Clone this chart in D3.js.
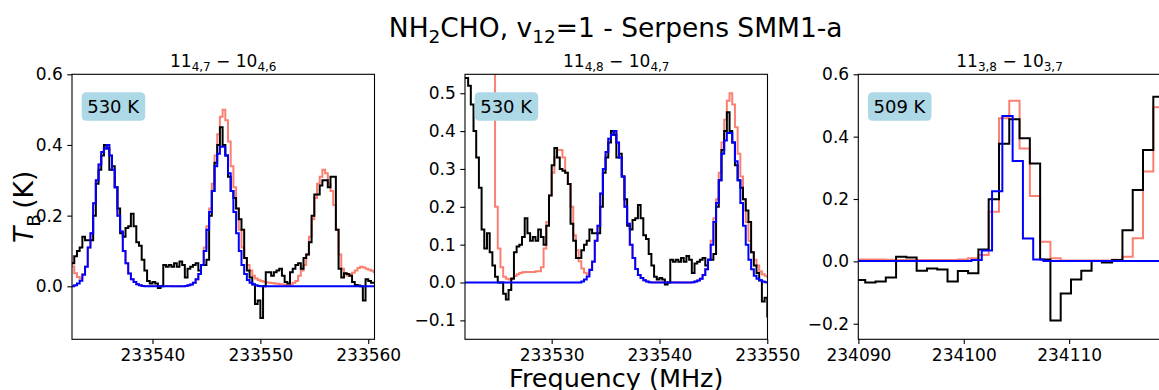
<!DOCTYPE html>
<html>
<head>
<meta charset="utf-8">
<script src="https://cdn.jsdelivr.net/npm/d3@7"></script>
<style>
  body { margin: 0; background: #fff; }
  text { font-family: "DejaVu Sans", sans-serif; fill: #000; }
</style>
</head>
<body>
<script>
// ---- data: 233.5 GHz window (0.25 MHz channels), shared by panels 1 and 2
const chanStart12 = 233521.75, chanWidth12 = 0.25;
const obs12 = [
  0.54, 0.54, 0.52, 0.47, 0.40, 0.33, 0.25, 0.14, 0.09, 0.13,
  0.08, 0.045, 0.015, 0.0, 0.0, -0.03, -0.045, -0.02, 0.01, 0.08,
  0.095, 0.10, 0.12, 0.17, 0.13, 0.11, 0.12, 0.11, 0.14, 0.12,
  0.10, 0.15, 0.23, 0.31, 0.355, 0.33, 0.30, 0.295, 0.29, 0.26,
  0.155, 0.11, 0.065, 0.065, 0.085, 0.10, 0.11, 0.14, 0.13, 0.13,
  0.13, 0.20, 0.29, 0.33, 0.37, 0.40, 0.39, 0.33, 0.34, 0.28,
  0.22, 0.15, 0.14, 0.165, 0.17, 0.205, 0.17, 0.125, 0.115, 0.075,
  0.045, 0.015, 0.008, 0.012, 0.008, -0.005, 0.0, 0.06, 0.055, 0.06,
  0.055, 0.065, 0.055, 0.07, 0.06, 0.025, 0.05, 0.055, 0.06, 0.065,
  0.045, 0.06, 0.06, 0.075, 0.20, 0.27, 0.35, 0.40, 0.45, 0.40,
  0.37, 0.31, 0.27, 0.25, 0.22, 0.19, 0.16, 0.08, 0.045, 0.025,
  0.005, -0.05, -0.04, -0.09, 0.0, 0.04, 0.04, 0.03, 0.04, 0.045,
  0.05, 0.03, 0.012, 0.008, 0.04, 0.05, 0.06, 0.065, 0.05, 0.08,
  0.09, 0.125, 0.20, 0.26, 0.26, 0.285, 0.30, 0.30, 0.28, 0.31,
  0.31, 0.16, 0.05, 0.025, 0.037, 0.035, 0.03, 0.012, 0.004, 0.002,
  0.0, -0.04, 0.02, 0.015, 0.01, 0.01
];
// full model (all species)
const total12 = [
  0.9, 0.9, 0.9, 0.9, 0.9, 0.9, 0.9, 0.9, 0.9, 0.9,
  0.9, 0.9, 0.20, 0.09, 0.04, 0.015, 0.01, 0.008, 0.012, 0.017,
  0.022, 0.025, 0.027, 0.028, 0.028, 0.028, 0.028, 0.03, 0.03, 0.04,
  0.09, 0.16, 0.23, 0.29, 0.33, 0.35, 0.35, 0.33, 0.29, 0.26,
  0.20, 0.125, 0.085, 0.056, 0.037, 0.026, 0.022, 0.035, 0.056, 0.11,
  0.15, 0.235, 0.30, 0.345, 0.38, 0.39, 0.40, 0.37, 0.33, 0.28,
  0.20, 0.155, 0.10, 0.065, 0.036, 0.02, 0.012, 0.006, 0.003, 0.001,
  0.001, 0.001, 0.001, 0.001, 0.001, 0.001, 0.001, 0.001, 0.001, 0.001,
  0.0, 0.0, 0.0, 0.0, 0.0, 0.001, 0.003, 0.005, 0.01, 0.02,
  0.035, 0.06, 0.11, 0.17, 0.22, 0.29, 0.37, 0.43, 0.48, 0.50,
  0.47, 0.41, 0.34, 0.28, 0.22, 0.16, 0.11, 0.08, 0.06, 0.045,
  0.03, 0.022, 0.018, 0.015, 0.013, 0.011, 0.01, 0.009, 0.008, 0.007,
  0.006, 0.005, 0.004, 0.003, 0.005, 0.01, 0.015, 0.03, 0.045, 0.06,
  0.09, 0.14, 0.19, 0.25, 0.29, 0.31, 0.33, 0.32, 0.29, 0.27,
  0.23, 0.16, 0.09, 0.05, 0.037, 0.03, 0.032, 0.038, 0.045, 0.052,
  0.055, 0.053, 0.05, 0.047, 0.044, 0.04
];
// NH2CHO v12=1 model alone
const vib12 = [
  0, 0, 0, 0, 0, 0, 0, 0, 0, 0,
  0, 0, 0, 0, 0, 0, 0, 0, 0, 0,
  0, 0, 0, 0, 0, 0, 0, 0, 0, 0,
  0, 0, 0, 0, 0, 0, 0, 0, 0, 0,
  0, 0, 0, 0, 0.003, 0.008, 0.016, 0.033, 0.055, 0.11,
  0.15, 0.235, 0.30, 0.345, 0.38, 0.39, 0.40, 0.37, 0.33, 0.28,
  0.20, 0.155, 0.10, 0.065, 0.036, 0.02, 0.012, 0.006, 0.003, 0.001,
  0, 0, 0, 0, 0, 0, 0, 0, 0, 0,
  0, 0, 0, 0, 0, 0.001, 0.003, 0.005, 0.01, 0.02,
  0.035, 0.06, 0.10, 0.16, 0.21, 0.27, 0.34, 0.375, 0.395, 0.395,
  0.37, 0.32, 0.27, 0.21, 0.15, 0.10, 0.06, 0.035, 0.018, 0.01,
  0.006, 0.003, 0.001, 0, 0, 0, 0, 0, 0, 0,
  0, 0, 0, 0, 0, 0, 0, 0, 0, 0,
  0, 0, 0, 0, 0, 0, 0, 0, 0, 0,
  0, 0, 0, 0, 0, 0, 0, 0, 0, 0,
  0, 0, 0, 0, 0, 0
];

// ---- data: 234.1 GHz window (coarser channels)
const chanStart3 = 234089.67, chanWidth3 = 0.9765;
const vibStart3 = 234089.99;
const obs3 = [-0.06, -0.068, -0.065, -0.052, 0.015, 0.012, -0.03, -0.023, -0.026, -0.065,
  -0.031, -0.038, 0.038, 0.199, 0.377, 0.456, 0.395, 0.314, 0.006, -0.19,
  -0.103, -0.058, -0.03, 0.001, -0.004, 0.004, 0.10, 0.229, 0.357, 0.528];
const total3 = [0.006, 0.006, 0.006, 0.005, 0.004, 0.004, 0.004, 0.004, 0.004, 0.004,
  0.006, 0.01, 0.02, 0.159, 0.459, 0.515, 0.362, 0.21, 0.063, 0.01,
  0.003, 0.003, 0.003, 0.003, 0.003, 0.005, 0.015, 0.074, 0.288, 0.494];
const vib3 = [0.001, 0.001, 0.001, 0.001, 0.001, 0.001, 0.001, 0.001, 0.001, 0.001,
  0.001, 0.004, 0.035, 0.225, 0.466, 0.322, 0.073, 0.006, 0.001, 0.001,
  0.001, 0.001, 0.001, 0.001, 0.001, 0.001, 0.001, 0.001, 0.001, 0.001];

// ---- panel labels and axes
const upperLevels = [["11", "4,7"], ["11", "4,8"], ["11", "3,8"]];
const lowerLevels = [["10", "4,6"], ["10", "4,7"], ["10", "3,7"]];
const eupLabels = ["530 K", "530 K", "509 K"];
const xLimits = [[233532.54, 233560.58], [233521.96, 233550.02], [234089.99, 234118.7]];
const yLimits = [[-0.15, 0.6], [-0.15, 0.55], [-0.25, 0.6]];
const xTicks = [[233540, 233550, 233560], [233530, 233540, 233550], [234090, 234100, 234110]];
const yTicks = [[0, 0.2, 0.4, 0.6], [-0.1, 0, 0.1, 0.2, 0.3, 0.4, 0.5], [-0.2, 0, 0.2, 0.4, 0.6]];

const width = 1159, height = 390;
const svg = d3.select("body").append("svg")
  .attr("width", width).attr("height", height);

const panelLeft = [72, 465, 858.3], panelTop = 74.3, pw = 302.5, ph = 265;

function steps(start, w, vals) {
  let pts = vals.map((v, i) => [start + i * w, v]);
  pts.push([start + vals.length * w, vals[vals.length - 1]]);
  return pts;
}

const series = [
  [{s: chanStart12, w: chanWidth12, v: total12, c: "#fa8072"},
   {s: chanStart12, w: chanWidth12, v: obs12, c: "#000000"},
   {s: chanStart12, w: chanWidth12, v: vib12, c: "#0000ff"}],
  null,
  [{s: chanStart3, w: chanWidth3, v: total3, c: "#fa8072"},
   {s: chanStart3, w: chanWidth3, v: obs3, c: "#000000"},
   {s: vibStart3, w: chanWidth3, v: vib3, c: "#0000ff"}]
];
series[1] = series[0];

for (let p = 0; p < 3; p++) {
  let g = svg.append("g").attr("transform", `translate(${panelLeft[p]},${panelTop})`);
  let x = d3.scaleLinear().domain(xLimits[p]).range([0, pw]);
  let y = d3.scaleLinear().domain(yLimits[p]).range([ph, 0]);

  g.append("clipPath").attr("id", "clip" + p)
    .append("rect").attr("width", pw).attr("height", ph);

  let line = d3.line().x(d => x(d[0])).y(d => y(d[1])).curve(d3.curveStepAfter);
  let lines = g.append("g").attr("clip-path", `url(#clip${p})`);
  series[p].forEach(s => {
    lines.append("path")
      .attr("d", line(steps(s.s, s.w, s.v)))
      .attr("fill", "none").attr("stroke", s.c)
      .attr("stroke-width", 2).attr("stroke-linejoin", "miter");
  });

  // axes
  let xa = g.append("g").attr("transform", `translate(0,${ph})`)
    .call(d3.axisBottom(x).tickValues(xTicks[p]).tickFormat(d3.format("d"))
      .tickSize(4.7).tickPadding(4.5));
  let ya = g.append("g")
    .call(d3.axisLeft(y).tickValues(yTicks[p]).tickFormat(d3.format(".1f"))
      .tickSize(4.7).tickPadding(4.5));
  [xa, ya].forEach(a => {
    a.select(".domain").remove();
    a.selectAll("text").style("font-size", "17px").style("font-family", "DejaVu Sans");
    a.selectAll("line").attr("stroke-width", 1.1);
  });

  g.append("rect").attr("width", pw).attr("height", ph)
    .attr("fill", "none").attr("stroke", "#000").attr("stroke-width", 1.1);

  // energy label
  g.append("rect").attr("x", 9.7).attr("y", 18).attr("width", 63.5).attr("height", 28.5)
    .attr("rx", 4.5).attr("fill", "#add8e6");
  g.append("text").attr("x", 15.2).attr("y", 38.5).style("font-size", "18px")
    .text(eupLabels[p]);

  // transition title
  let t = svg.append("text").attr("x", panelLeft[p] + pw / 2).attr("y", 67)
    .attr("text-anchor", "middle").style("font-size", "17px");
  t.append("tspan").text(upperLevels[p][0]);
  t.append("tspan").attr("dy", 4).style("font-size", "12px").text(upperLevels[p][1]);
  t.append("tspan").attr("dy", -4).text(" \u2212 " + lowerLevels[p][0]);
  t.append("tspan").attr("dy", 4).style("font-size", "12px").text(lowerLevels[p][1]);
}

// figure title
let title = svg.append("text").attr("x", 615.7).attr("y", 37)
  .attr("text-anchor", "middle").style("font-size", "26.5px");
title.append("tspan").text("NH");
title.append("tspan").attr("dy", 6).style("font-size", "18.5px").text("2");
title.append("tspan").attr("dy", -6).text("CHO, v");
title.append("tspan").attr("dy", 6).style("font-size", "18.5px").text("12");
title.append("tspan").attr("dy", -6).text("=1 - Serpens SMM1-a");

// axis labels
svg.append("text").attr("x", panelLeft[1] + pw / 2).attr("y", 387)
  .attr("text-anchor", "middle").style("font-size", "25.5px").text("Frequency (MHz)");

let yl = svg.append("text")
  .attr("transform", `translate(33,${panelTop + ph / 2}) rotate(-90)`)
  .attr("text-anchor", "middle").style("font-size", "26.5px");
yl.append("tspan").style("font-style", "italic").text("T");
yl.append("tspan").attr("dy", 7).style("font-size", "18.5px").text("B");
yl.append("tspan").attr("dy", -7).text("\u2009(K)");
</script>
</body>
</html>
